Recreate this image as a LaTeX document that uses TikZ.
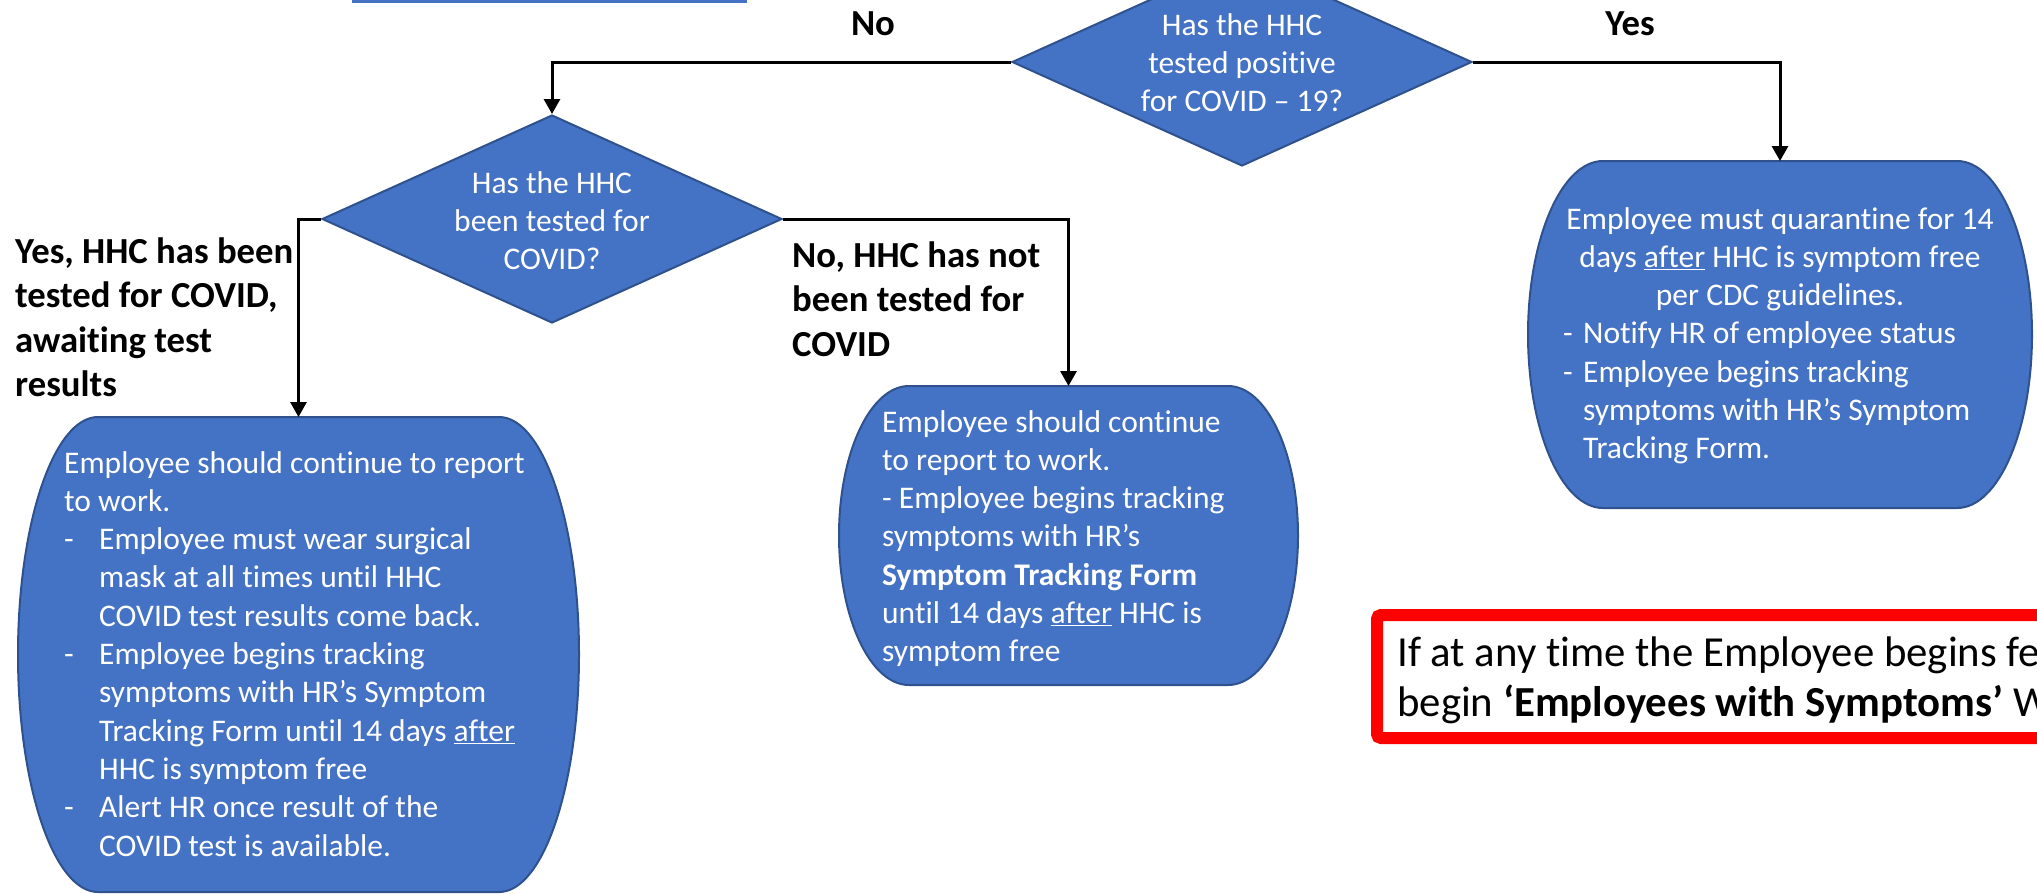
\documentclass[tikz,border=0pt]{standalone}
\usepackage{fontspec}
\setmainfont{Carlito}[Ligatures=NoCommon]
\usetikzlibrary{shapes.geometric,arrows.meta}
\definecolor{ofblue}{HTML}{4472C4}
\definecolor{ofedge}{HTML}{2F528F}
\definecolor{alertred}{HTML}{FF0000}
\newcommand\bodyfont{\fontsize{31.5}{38.3}\selectfont}
\newcommand\labelfont{\fontsize{36.7}{44.5}\selectfont\bfseries}
\newcommand\alertfont{\fontsize{42.8}{50.7}\selectfont}
\tikzset{
  shapebox/.style={fill=ofblue, draw=ofedge, line width=2pt},
  decision/.style={diamond, shapebox, inner sep=0pt, minimum width=460pt, minimum height=208pt},
  anchorbox/.style={inner sep=0pt, outer sep=0pt, draw=none},
  bodytext/.style={inner sep=0pt, text=white, font=\bodyfont},
  branchlabel/.style={inner sep=0pt, text=black, font=\labelfont},
  alerttext/.style={inner sep=0pt, text=black, font=\alertfont},
  conn/.style={line width=3pt, -{Triangle[width=16pt,length=15pt]}},
}
\newcommand\barrel[6]{%
  \node[anchorbox, minimum width={2*#4pt}, minimum height={2*#5pt}] (#1) at (#2,#3) {};
  \path[shapebox] ({#2-#4+#6},{#3-#5}) -- ({#2+#4-#6},{#3-#5})
    .. controls ({#2+#4-0.4477*#6},{#3-#5}) and ({#2+#4},{#3-0.5523*#5}) .. ({#2+#4},{#3})
    .. controls ({#2+#4},{#3+0.5523*#5}) and ({#2+#4-0.4477*#6},{#3+#5}) .. ({#2+#4-#6},{#3+#5})
    -- ({#2-#4+#6},{#3+#5})
    .. controls ({#2-#4+0.4477*#6},{#3+#5}) and ({#2-#4},{#3+0.5523*#5}) .. ({#2-#4},{#3})
    .. controls ({#2-#4},{#3-0.5523*#5}) and ({#2-#4+0.4477*#6},{#3-#5}) .. cycle;
}
\begin{document}
\begin{tikzpicture}[x=1pt,y=-1pt]
\useasboundingbox (0,0) rectangle (2037,894);
% partially visible box at the top
\node[anchorbox, fill=ofblue, minimum width=395pt, minimum height=60pt, anchor=south west] (topbox) at (352,3) {};
% decisions
\node[decision] (d1) at (1242,62) {};
\node[decision] (d2) at (552,219) {};
\node[bodytext, anchor=base] (d1t) at (1242,35) {\begin{tabular}[t]{@{}c@{}}Has the HHC\\tested positive\\for COVID – 19?\end{tabular}};
\node[bodytext, anchor=base] (d2t) at (552,193) {\begin{tabular}[t]{@{}c@{}}Has the HHC\\been tested for\\COVID?\end{tabular}};
% action boxes
\barrel{bL}{298.5}{654.5}{280.5}{237.5}{80}
\barrel{bM}{1068.5}{535.5}{229.5}{149.5}{70}
\barrel{bR}{1780}{334.5}{252}{173.5}{75}
% connectors
\draw[conn] (d1.west) -| (d2.north);
\draw[conn] (d1.east) -| (bR.north);
\draw[conn] (d2.west) -| (bL.north);
\draw[conn] (d2.east) -| (bM.north);
% branch labels
\node[branchlabel, anchor=base] (lno) at (873,35) {No};
\node[branchlabel, anchor=base] (lyes) at (1630,35) {Yes};
\node[branchlabel, anchor=base west] (lyes2) at (15,263) {\begin{tabular}[t]{@{}l@{}}Yes, HHC has been\\tested for COVID,\\awaiting test\\results\end{tabular}};
\node[branchlabel, anchor=base west] (lno2) at (792,267) {\begin{tabular}[t]{@{}l@{}}No, HHC has not\\been tested for\\COVID\end{tabular}};
% box texts
\node[bodytext, anchor=base west] (bLt) at (64,473) {\begin{tabular}[t]{@{}p{35pt}@{}l@{}}
\multicolumn{2}{@{}l@{}}{Employee should continue to report}\\
\multicolumn{2}{@{}l@{}}{to work.}\\
- & Employee must wear surgical\\
  & mask at all times until HHC\\
  & COVID test results come back.\\
- & Employee begins tracking\\
  & symptoms with HR’s Symptom\\
  & Tracking Form until 14 days \underline{after}\\
  & HHC is symptom free\\
- & Alert HR once result of the\\
  & COVID test is available.
\end{tabular}};
\node[bodytext, anchor=base west] (bMt) at (882,432) {\begin{tabular}[t]{@{}l@{}}
Employee should continue\\
to report to work.\\
- Employee begins tracking\\
symptoms with HR’s\\
\textbf{Symptom Tracking Form}\\
until 14 days \underline{after} HHC is\\
symptom free
\end{tabular}};
\node[bodytext, anchor=base] (bRt) at (1780,229) {\begin{tabular}[t]{@{}c@{}}
Employee must quarantine for 14\\
days \underline{after} HHC is symptom free\\
per CDC guidelines.
\end{tabular}};
\node[bodytext, anchor=base west] (bRl) at (1563,343.9) {\begin{tabular}[t]{@{}p{20pt}@{}l@{}}
- & Notify HR of employee status\\
- & Employee begins tracking\\
  & symptoms with HR’s Symptom\\
  & Tracking Form.
\end{tabular}};
% alert box
\node[anchorbox, draw=alertred, line width=12pt, rounded corners=4pt, anchor=north west, minimum width=800pt, minimum height=123pt] (alert) at (1377,615) {};
\node[alerttext, anchor=base west] (alertt) at (1397,666) {\begin{tabular}[t]{@{}l@{}}
If at any time the Employee begins fe\\
begin \textbf{‘Employees with Symptoms’} W
\end{tabular}};
\end{tikzpicture}
\end{document}
